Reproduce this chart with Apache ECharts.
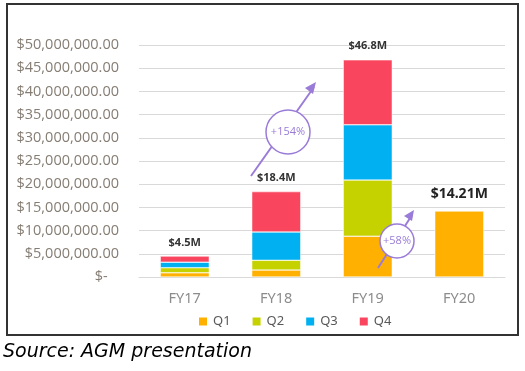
<!DOCTYPE html>
<html><head><meta charset="utf-8">
<script src="https://cdn.jsdelivr.net/npm/echarts@6/dist/echarts.min.js"></script>
<style>html,body{margin:0;padding:0;background:#fff;}#c{width:525px;height:371px;}</style>
</head><body><div id="c"></div>
<script>
const categories = ['FY17','FY18','FY19','FY20'];
const q1 = [0.9, 1.5, 8.8, 14.21];
const q2 = [1.1, 2.1, 12.1, null];
const q3 = [1.2, 6.1, 11.9, null];
const q4 = [1.3, 8.7, 14.0, null];
const totalLabels = ['$4.5M', '$18.4M', '$46.8M', '$14.21M'];
const seriesNames = ['Q1','Q2','Q3','Q4'];
const colors = ['#FFB000','#C5D200','#00B0F0','#F9465E'];

const chart = echarts.init(document.getElementById('c'));
function fmtY(v){
  if (v === 0) return '$-   ';
  return '$' + Math.round(v).toLocaleString('en-US') + '.00';
}
const smallLbl = {show:true, position:'top', distance:8, fontSize:11, fontWeight:'bold', color:'#333', fontFamily:'Noto Sans'};
function mk(name, vals, idx){
  return {
    name, type:'bar', stack:'s', barWidth:49,
    itemStyle:{color:colors[idx], borderColor:'#fff', borderWidth:0.5},
    data: vals.map((v,i)=>{
      const d = {value: v===null? null : v*1e6};
      const isTop = (idx===3 && v!==null) || (idx===0 && i===3);
      if (isTop) {
        d.label = Object.assign({}, smallLbl, {formatter: totalLabels[i]});
        if (i===3) { d.label.fontSize = 14; d.label.distance = 10; d.label.color='#222'; }
      }
      return d;
    }),
    label:{show:false}
  };
}
const purple = '#9A7CD8';
chart.setOption({
  animation:false,
  color: colors,
  grid:{left:139, right:20, top:45, bottom:94, containLabel:false, outerBoundsMode:'none'},
  xAxis:{type:'category', data:categories,
    axisLine:{lineStyle:{color:'#d9d9d9'}}, axisTick:{show:false},
    axisLabel:{color:'#8c8c8c', fontSize:14.5, margin:14, fontFamily:'Noto Sans'}},
  yAxis:{type:'value', min:0, max:50e6, interval:5e6,
    axisLine:{show:false}, axisTick:{show:false},
    splitLine:{lineStyle:{color:'#d9d9d9'}},
    axisLabel:{color:'#857d73', fontSize:14.5, margin:20, fontFamily:'Open Sans', formatter:fmtY}},
  legend:{data:seriesNames, bottom:38, left:192, itemWidth:10, itemHeight:10, itemGap:20, icon:'rect',
    textStyle:{color:'#595959', fontSize:13, fontFamily:'Noto Sans'}},
  series:[mk('Q1',q1,0), mk('Q2',q2,1), mk('Q3',q3,2), mk('Q4',q4,3)],
  graphic:[
    {type:'rect', shape:{x:7, y:4, width:511, height:331}, style:{fill:null, stroke:'#333', lineWidth:2}, z:100},
    {type:'text', left:3, top:343, style:{text:'Source: AGM presentation', font:'italic 19px "DejaVu Sans"', fill:'#000'}},
    {type:'line', shape:{x1:251, y1:176, x2:314, y2:87}, style:{stroke:purple, lineWidth:2}, z:50},
    {type:'polygon', shape:{points:[[316,82],[305,88],[313,94]]}, style:{fill:purple}, z:50},
    {type:'circle', shape:{cx:288, cy:132, r:22}, style:{fill:'#fff', stroke:purple, lineWidth:1.5}, z:51},
    {type:'text', x:288, y:132, style:{text:'+154%', fill:purple, font:'11px "Open Sans"', textAlign:'center', textVerticalAlign:'middle'}, z:52},
    {type:'line', shape:{x1:378, y1:268, x2:412, y2:215}, style:{stroke:purple, lineWidth:2}, z:50},
    {type:'polygon', shape:{points:[[414,210],[404,216],[412,221]]}, style:{fill:purple}, z:50},
    {type:'circle', shape:{cx:397, cy:241, r:17}, style:{fill:'#fff', stroke:purple, lineWidth:1.5}, z:51},
    {type:'text', x:397, y:241, style:{text:'+58%', fill:purple, font:'11px "Open Sans"', textAlign:'center', textVerticalAlign:'middle'}, z:52}
  ]
});
</script></body></html>
